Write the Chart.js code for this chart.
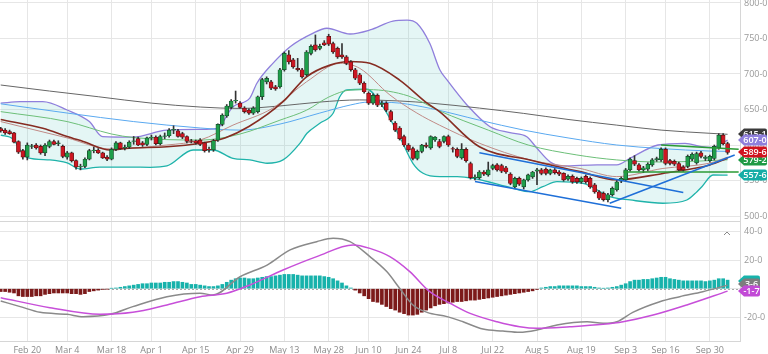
<!DOCTYPE html>
<html><head><meta charset="utf-8">
<script src="https://cdn.jsdelivr.net/npm/chart.js@4.4.0/dist/chart.umd.min.js"></script>
<style>
html,body{margin:0;padding:0;background:#fff;}
#wrap{width:768px;height:354px;overflow:hidden;}
canvas{display:block;}
</style></head><body>
<div id="wrap">
<canvas id="main" width="768" height="222"></canvas>
<canvas id="macd" width="768" height="132"></canvas>
</div>
<script>
// ---------- DATA ----------
const tickIdx = [6,15,25,34,44,54,64,74,83,92,101,111,121,131,141,150,160];
const tickLabels = ["Feb 20","Mar 4","Mar 18","Apr 1","Apr 15","Apr 29","May 13","May 28","Jun 10","Jun 24","Jul 8","Jul 22","Aug 5","Aug 19","Sep 3","Sep 16","Sep 30"];
const priceTicks = [500,550,600,650,700,750,800];
const macdTicks = [-20,0,20,40];

const opens = [623,621,619,617,605,592,583,598,600,598, 589,598,605,602,598,583,589,578,569,570,
 580,592,593,589,583,580,594,603,596,597, 605,609,603,601,610,611,602,612,613,621,
 620,616,612,606,606,607,603,594,593,607, 629,641,653,662,659,652,649,645,647,668,
 689,689,682,682,706,727,720,708,706,699, 729,741,736,744,753,743,736,727,724,717,
 706,699,687,673,659,670,657,659,647,631, 624,612,600,595,581,591,600,596,607,605,
 605,612,595,594,582,594,574,554,554,562, 558,567,572,571,568,559,541,553,541,551,
 555,563,565,566,560,565,562,560,552,556, 553,548,556,553,544,534,532,523,530,537,
 549,551,565,578,572,565,566,572,579,579, 594,578,577,574,569,570,580,575,589,581,
 578,581,596,614,602];
const highs = [625,623,621,618,606,594,603,601,602,600, 602,607,607,606,600,591,590,579,573,582,
 594,597,595,590,585,596,605,604,600,606, 612,611,605,611,614,613,614,617,623,627,
 622,618,613,608,607,609,604,597,608,630, 644,657,664,676,661,654,651,654,669,694,
 696,691,684,708,731,733,722,722,708,733, 741,755,742,747,756,745,738,743,726,719,
 708,701,689,675,672,672,662,661,649,633, 626,614,602,597,593,601,603,613,612,608,
 613,614,597,596,602,596,576,558,564,564, 576,573,574,573,570,561,555,555,552,559,
 563,567,567,568,566,567,564,561,558,558, 555,555,558,555,546,536,534,532,541,550,
 555,567,582,585,574,570,575,581,583,596, 596,580,579,576,571,586,589,590,591,585,
 586,600,616,616,604];
const lows = [618,615,615,603,588,580,579,595,594,587, 585,596,600,599,582,580,576,566,565,568,
 579,589,588,581,578,579,592,594,593,595, 601,599,598,599,607,600,600,609,611,616,
 611,609,603,603,601,599,590,590,591,605, 627,639,651,659,652,645,643,643,645,664,
 686,678,677,680,704,714,708,704,694,697, 727,732,734,740,740,729,722,722,713,704,
 692,685,673,657,657,654,654,647,633,619, 607,598,591,579,579,589,596,594,605,596,
 603,598,590,582,580,576,552,551,552,557, 556,565,563,561,560,544,539,543,538,549,
 553,544,558,558,558,559,557,549,550,546, 546,546,546,539,532,523,521,520,528,535,
 547,549,563,571,563,561,564,570,577,577, 572,572,571,563,563,568,578,573,582,578,
 576,579,594,600,587];
const closes = [620,617,616,604,590,583,600,599,596,589, 600,605,601,603,584,589,578,569,570,580,
 592,593,589,582,580,594,603,595,597,604, 606,600,600,610,611,602,612,613,621,622,
 612,611,605,605,603,601,592,593,606,629, 642,655,662,663,653,647,645,652,668,692,
 694,680,679,706,729,717,710,706,696,731, 739,734,739,741,742,731,724,724,715,706,
 694,687,675,659,670,656,659,649,635,621, 609,600,593,581,591,600,598,612,611,598,
 612,600,594,584,594,578,554,555,562,559, 565,571,565,563,562,546,553,545,551,558,
 562,565,560,560,565,561,559,551,556,548, 548,553,548,541,534,525,523,530,539,548,
 553,565,580,573,565,568,573,579,581,594, 574,574,573,565,565,584,587,588,584,583,
 584,598,614,602,589.6];

// indicator lines: [day index, value]
const ma200 = [[0,684.5],[11,676],[22,668],[34,659],[45,653.5],[54,651.5],[63,655],[72,660.5],[81,663.5],[90,662],[97,659],[108,652],[118,644.5],[128,636],[139,628],[149,621],[160,616.5],[164,615.1]];
const ma100 = [[0,658],[15,645],[30,633],[45,624],[54,621],[63,629.5],[72,645],[79,656.5],[83,660.5],[90,659],[97,651.5],[108,635],[118,621],[128,610],[139,600],[149,595],[160,591.5],[164,591]];
const ma50 = [[0,647],[15,633],[25,615.5],[30,610.5],[45,607],[54,615.5],[63,635],[69,649],[74,667.5],[79,677.5],[83,678],[92,669],[99,648],[110,621],[119,600],[130,586],[139,579],[149,576],[158,577.5],[164,579.2]];
const ma20 = [[0,636],[9.5,623.5],[15,612],[18.6,605],[24.7,593],[29,595.5],[37.5,597.5],[45,602.5],[50.6,610],[56,626],[63.7,661],[69,696],[74.3,712.5],[78.8,717.5],[83.3,715],[90,691.5],[96.2,659],[99,647],[108,597.5],[119.4,579],[130.7,562.5],[139,551],[149.4,560],[160,572],[164,581.3]];
const ema20 = [[0,633],[15,610],[24.7,594.5],[37.5,600],[45,607],[52.4,628],[61.4,652],[69,689],[76.6,715],[81,708],[87.8,670.5],[93.9,645],[99,628],[108,602.5],[119.4,579],[130.7,567],[139,555.5],[149.4,567],[160,574.5],[164,583]];
const bbUpper = [[0,659],[4.4,661],[9.5,661],[15,649.3],[20,633],[23,611.7],[29.8,611],[37.5,621],[45,622],[48.8,623.5],[52.4,654],[56.2,666],[57.8,687],[61.4,715],[65.3,738.5],[70.4,757.3],[73.6,764.4],[78.8,756.3],[83.3,762],[88.5,774.6],[91.7,776],[93.9,771.4],[96.8,743.2],[99.1,705.6],[100.7,691.6],[105.2,656.4],[110.4,625.8],[114.9,617.4],[118.7,611.7],[121,595.4],[123.9,576.5],[126.8,570.5],[134.5,572],[139,572],[142,581.3],[148.3,600],[154.4,602.4],[158.2,597.6],[160.5,596.8],[164,607]];
const bbLower = [[0,614],[2.8,608.5],[4.4,593],[6,582.4],[11.1,579],[15,574.7],[17.9,566.2],[22.4,569],[29.2,569],[33.7,568.6],[37.5,570.5],[43.4,593],[47.9,593],[52.4,581.3],[56.2,579],[60.1,574.3],[63.7,579],[67.5,602.4],[69.1,616.5],[72,630.6],[75,644.7],[76.5,668],[78.1,677.5],[82.6,678.5],[86.2,654],[90,611.7],[93,574.3],[95.3,560.2],[99.1,555.4],[103,555.4],[106.5,553.2],[115.6,539.1],[119.4,534.3],[122.3,541.3],[125.5,548.4],[131.4,546.1],[137.4,527.3],[142,522.6],[149.4,518],[154.8,522.6],[157.1,534.3],[158.2,541.3],[160.7,557.8],[164,557.6]];

// drawn trend lines: [day index, price]
const trendUpper = [[108,589],[154,533]];
const trendLower = [[107,548.5],[140,511]];
const trendRise = [[137.4,518],[165.6,586]];
const levelHigh = [[149,600],[166.5,594]];
const levelLow = [[140.5,562],[166.5,562]];

// MACD panel
const macdLine = [[0,-8.6],[4.4,-12.6],[8.9,-16.6],[15,-18],[18.6,-19.6],[24.7,-18],[29.8,-12.6],[37.5,-5.6],[45,-3.2],[47.9,-4.4],[54,8.4],[60.1,16.6],[65.3,27.2],[71.3,33],[75,35.4],[78.8,33],[83.3,22.5],[87.1,12],[90,0.3],[93,-11.4],[96.2,-16.6],[100.7,-19.6],[104.3,-23.2],[108.8,-28.3],[113.3,-29.7],[117.1,-30.6],[121,-29],[125.5,-25.5],[132.3,-23.2],[135.9,-24.3],[139,-23.2],[142.6,-16.6],[148.7,-9.1],[153.2,-5.6],[158.4,-2.1],[164,2.5]];
const signalLine = [[0,-6.3],[11.1,-13.3],[22.4,-18],[29.8,-16.6],[37.5,-11.4],[45,-5.6],[51,-3.2],[56.2,2.6],[63.7,13.1],[71.3,22.5],[79.5,30.7],[83.3,28.3],[87.8,22.5],[92.3,12],[96.8,-2.1],[101.4,-10.2],[105.9,-17.3],[112,-23.2],[117.1,-26.7],[121,-27.8],[128.4,-26.7],[135.9,-25],[140.4,-23.2],[147.2,-18.5],[154.8,-11.4],[164,-1.7]];
const histogram = [-2,-2,-2.5,-3,-5,-5.5,-5.5,-5.5,-5,-5,
 -4,-3.5,-3,-3,-3,-3,-3.5,-3.5,-4,-3.5,
 -2,-1.5,-1,-0.5,-0.3,0.3,0.5,1,1.5,2,
 2.5,3,3.5,3.5,4,4,4,4.5,4.5,5,
 5,4.5,4,3,3,2.5,2,1.5,1.5,2,
 3,4.5,6,7,7.5,7.5,7,7,7.5,8,
 8.5,8.5,9,9.5,10,10,10,9.5,9,9,
 9,9,9,8.5,8,7,5.5,4,2,0.5,
 -1,-3,-5,-7,-9,-9.5,-11,-12.5,-14,-15,
 -16.5,-17.5,-18.5,-18.5,-18,-16.5,-15,-13.5,-12,-11,
 -10.5,-10,-9.5,-9,-9,-8.5,-8,-8,-7.5,-7,
 -6.5,-6,-5.5,-5,-4.5,-4,-3.5,-3,-2.5,-2,
 -1.5,-0.5,0.5,1,1.5,1.5,2,2,2,2,
 2,1.5,1.5,1.5,1,0.5,0.3,0.5,1,1.5,
 2.5,3.5,5,6,6,6.5,6.5,7,7.5,8,
 8,7,6.5,6,5.5,5.5,5.5,5.5,5.5,5,
 5.5,6,7,7,6];

// value tags at the right edge
const priceTagValues = [615.1, 607.0, 579.2, 589.6, 557.6];
const priceTagColors = ['#3a3a3a', '#8f7fdc', '#1e9a44', '#d0121e', '#15ada6'];
const macdTagValues = [5.2, 3.6, -1.7];
const macdTagTexts = ['', '3-6', '-1-7'];
const macdTagColors = ['#16b3ab', '#7d7d7d', '#c24bd6'];

// ---------- HELPERS ----------
const X_MIN = -0.16, X_MAX = 166.8;
const GRID = '#e6e6e6';
const FONT = 'Open Sans';
const fmt = v => Number(v).toFixed(1).replace('.', '-');
const pts = arr => arr.map(p => ({x: p[0], y: p[1]}));
const days = closes.map((_, i) => i);
const isUp = days.map(i => closes[i] >= opens[i]);

function lineDs(data, color, width, order, extra) {
  return Object.assign({type: 'line', data: pts(data), borderColor: color, borderWidth: width,
    pointRadius: 0, cubicInterpolationMode: 'monotone', fill: false, order: order}, extra || {});
}
function fixRight(s) { s.width = 28; s.paddingTop = 0; s.paddingBottom = 0; }

function drawTag(ctx, x0, x1, y, color, text) {
  ctx.beginPath();
  ctx.moveTo(x0, y);
  ctx.lineTo(x0 + 6, y - 5.5);
  ctx.lineTo(x1 - 2, y - 5.5);
  ctx.quadraticCurveTo(x1, y - 5.5, x1, y - 3.5);
  ctx.lineTo(x1, y + 3.5);
  ctx.quadraticCurveTo(x1, y + 5.5, x1 - 2, y + 5.5);
  ctx.lineTo(x0 + 6, y + 5.5);
  ctx.closePath();
  ctx.fillStyle = color; ctx.fill();
  if (text) {
    ctx.fillStyle = '#fff';
    ctx.font = '600 9px "' + FONT + '"';
    ctx.textAlign = 'center'; ctx.textBaseline = 'middle';
    ctx.fillText(text, (x0 + 5 + x1) / 2, y + 0.5);
  }
}

const priceTagPlugin = {
  id: 'priceTags',
  afterDraw(chart) {
    const ys = chart.scales.y, ctx = chart.ctx;
    const x0 = chart.chartArea.right - 2, x1 = chart.width - 1;
    ctx.save();
    priceTagValues.forEach((v, i) => {
      drawTag(ctx, x0, x1, Math.round(ys.getPixelForValue(v)), priceTagColors[i], fmt(v));
    });
    ctx.restore();
  }
};

const macdPlugin = {
  id: 'macdExtras',
  beforeDatasetsDraw(chart) {
    const ys = chart.scales.y, ctx = chart.ctx, a = chart.chartArea;
    const y = Math.round(ys.getPixelForValue(0)) + 0.5;
    ctx.save();
    ctx.strokeStyle = '#a8a8a8'; ctx.lineWidth = 1; ctx.setLineDash([2, 2]);
    ctx.beginPath(); ctx.moveTo(a.left, y); ctx.lineTo(a.right, y); ctx.stroke();
    ctx.restore();
  },
  afterDraw(chart) {
    const ys = chart.scales.y, ctx = chart.ctx, a = chart.chartArea;
    ctx.save();
    // collapse caret
    ctx.strokeStyle = '#888'; ctx.lineWidth = 1;
    ctx.beginPath(); ctx.moveTo(a.right - 16, a.top + 13); ctx.lineTo(a.right - 13, a.top + 10); ctx.lineTo(a.right - 10, a.top + 13); ctx.stroke();
    const x0 = a.right - 2, x1 = a.right + 20;
    macdTagValues.forEach((v, i) => {
      drawTag(ctx, x0, x1, Math.round(ys.getPixelForValue(v)), macdTagColors[i], macdTagTexts[i]);
    });
    ctx.restore();
  }
};

// ---------- MAIN PRICE CHART ----------
new Chart(document.getElementById('main'), {
  type: 'bar',
  data: {
    datasets: [
      lineDs(bbUpper, '#8f7fdc', 1.3, 30, {fill: '+1', backgroundColor: 'rgba(96,200,194,0.17)'}),
      lineDs(bbLower, '#1fb3aa', 1.3, 29),
      lineDs(ma200, '#666666', 1, 20),
      lineDs(ma100, '#5aa9f0', 1, 19),
      lineDs(ma50, '#6cbf78', 1, 18),
      lineDs(ema20, '#c08a86', 1, 17),
      lineDs(ma20, '#862c22', 1.6, 16),
      {type: 'bar', data: days.map(i => ({x: i, y: [lows[i], highs[i]]})), backgroundColor: '#333',
        barThickness: 1, grouped: false, order: 6},
      {type: 'bar', data: days.map(i => ({x: i, y: [opens[i], closes[i]]})),
        backgroundColor: days.map(i => isUp[i] ? '#1f9e4a' : '#cc1622'),
        borderColor: days.map(i => isUp[i] ? '#16472a' : '#5a1010'),
        borderWidth: 0.7, borderSkipped: false, barThickness: 4, grouped: false, order: 5},
      lineDs(trendUpper, '#1e6fd8', 1.5, 2, {cubicInterpolationMode: 'default', tension: 0}),
      lineDs(trendLower, '#1e6fd8', 1.5, 2, {cubicInterpolationMode: 'default', tension: 0}),
      lineDs(trendRise, '#1e6fd8', 1.5, 2, {cubicInterpolationMode: 'default', tension: 0}),
      lineDs(levelHigh, '#2a9a35', 1.5, 2, {cubicInterpolationMode: 'default', tension: 0}),
      lineDs(levelLow, '#2a9a35', 1.5, 2, {cubicInterpolationMode: 'default', tension: 0})
    ]
  },
  options: {
    responsive: false, animation: false, events: [],
    layout: {padding: 0},
    plugins: {legend: {display: false}, tooltip: {enabled: false}},
    scales: {
      x: {type: 'linear', min: X_MIN, max: X_MAX, offset: false,
        grid: {color: GRID, drawTicks: false, offset: false},
        border: {display: true, color: '#d6d6d6'},
        ticks: {display: false},
        afterBuildTicks: s => { s.ticks = tickIdx.map(v => ({value: v})); },
        afterFit: s => { s.height = 1; s.paddingLeft = 0; s.paddingRight = 0; }
      },
      y: {type: 'linear', position: 'right', min: 493.0, max: 804.2,
        grid: {color: GRID, drawTicks: false},
        border: {display: true, color: '#d6d6d6'},
        ticks: {padding: 4, color: '#999', font: {family: FONT, size: 9}, callback: v => fmt(v)},
        afterBuildTicks: s => { s.ticks = priceTicks.map(v => ({value: v})); },
        afterFit: fixRight
      }
    }
  },
  plugins: [priceTagPlugin]
});

// ---------- MACD CHART ----------
new Chart(document.getElementById('macd'), {
  type: 'bar',
  data: {
    datasets: [
      {type: 'bar', data: days.map(i => ({x: i, y: histogram[i]})),
        backgroundColor: histogram.map(v => v >= 0 ? '#17b2ab' : '#7c1a1a'),
        barThickness: 3, grouped: false, order: 10},
      lineDs(macdLine, '#8a8a8a', 1.5, 2),
      lineDs(signalLine, '#c74fd9', 1.5, 1)
    ]
  },
  options: {
    responsive: false, animation: false, events: [],
    layout: {padding: 0},
    plugins: {legend: {display: false}, tooltip: {enabled: false}},
    scales: {
      x: {type: 'linear', min: X_MIN, max: X_MAX, offset: false,
        grid: {color: GRID, drawTicks: false, offset: false},
        border: {display: true, color: '#d6d6d6'},
        ticks: {padding: 4, color: '#8a8a8a', font: {family: FONT, size: 9}, autoSkip: false, maxRotation: 0, minRotation: 0,
          callback: (v, i) => tickLabels[i]},
        afterBuildTicks: s => { s.ticks = tickIdx.map(v => ({value: v})); },
        afterFit: s => { s.height = 13; s.paddingLeft = 0; s.paddingRight = 0; }
      },
      y: {type: 'linear', position: 'right', min: -36.7, max: 46.8,
        grid: {color: GRID, drawTicks: false},
        border: {display: true, color: '#d6d6d6'},
        ticks: {padding: 4, color: '#999', font: {family: FONT, size: 9}, callback: v => fmt(v)},
        afterBuildTicks: s => { s.ticks = macdTicks.map(v => ({value: v})); },
        afterFit: fixRight
      }
    }
  },
  plugins: [macdPlugin]
});
</script>
</body></html>
